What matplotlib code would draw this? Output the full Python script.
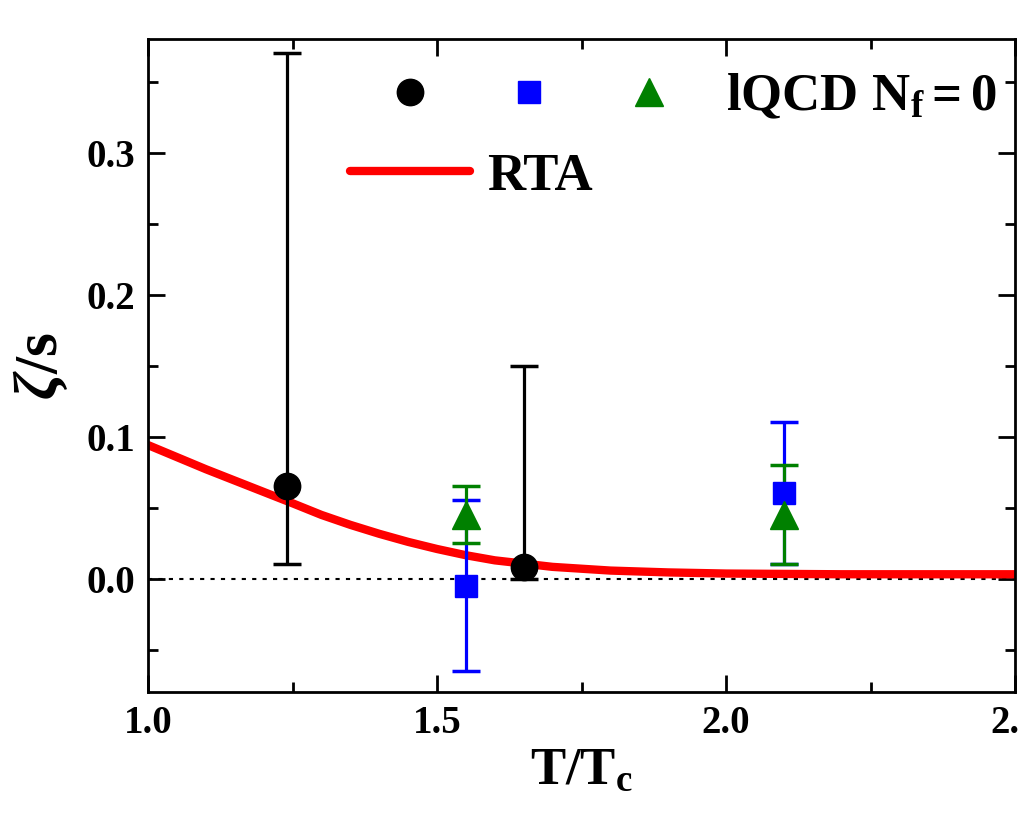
import matplotlib
matplotlib.use('Agg')
import matplotlib.pyplot as plt
from matplotlib.legend_handler import HandlerTuple
from matplotlib.lines import Line2D
from matplotlib.ticker import MultipleLocator

plt.rcParams['font.family'] = ['Liberation Serif', 'DejaVu Serif']
plt.rcParams['font.weight'] = 'bold'
plt.rcParams['mathtext.fontset'] = 'custom'
plt.rcParams['mathtext.rm'] = 'Liberation Serif:bold'
plt.rcParams['mathtext.it'] = 'Liberation Serif:italic:bold'
plt.rcParams['mathtext.bf'] = 'Liberation Serif:bold'

# lattice QCD points (three data sets), asymmetric errors
circ_x = [1.24, 1.65]
circ_y = [0.065, 0.008]
circ_lo = [0.055, 0.008]
circ_hi = [0.305, 0.142]

sq_x = [1.55, 2.10]
sq_y = [-0.005, 0.060]
sq_err = [0.060, 0.050]

tri_x = [1.55, 2.10]
tri_y = [0.045, 0.045]
tri_err = [0.020, 0.035]

# RTA curve
rta_T = [1.0, 1.05, 1.1, 1.15, 1.2, 1.25, 1.3, 1.35, 1.4, 1.45, 1.5, 1.55,
         1.6, 1.7, 1.8, 1.9, 2.0, 2.2, 2.5]
rta_zeta = [0.094, 0.0855, 0.077, 0.069, 0.061, 0.053, 0.0448, 0.0378, 0.0315,
            0.0258, 0.0208, 0.0164, 0.0128, 0.0082, 0.0056, 0.0043, 0.0035,
            0.003, 0.003]

fig = plt.figure(figsize=(10.18, 8.21), dpi=100)
ax = fig.add_axes([0.1454, 0.157, 0.8517, 0.7955])

ax.axhline(0.0, color='black', ls=(0, (2, 3)), lw=1.5, zorder=1)

ax.plot(rta_T, rta_zeta, color='red', lw=6, solid_capstyle='round',
        solid_joinstyle='round', zorder=2)

eb_kw = dict(ls='none', elinewidth=2.3, capsize=10, capthick=2.5, zorder=3)
ax.errorbar(circ_x, circ_y, yerr=[circ_lo, circ_hi], fmt='o', color='black',
            ms=19, **eb_kw)
ax.errorbar(sq_x, sq_y, yerr=sq_err, fmt='s', color='blue', ms=16, **eb_kw)
ax.errorbar(tri_x, tri_y, yerr=tri_err, fmt='^', color='green', ms=20, **eb_kw)

ax.set_xlim(1.0, 2.5)
ax.set_ylim(-0.08, 0.38)
ax.xaxis.set_minor_locator(MultipleLocator(0.25))
ax.yaxis.set_minor_locator(MultipleLocator(0.05))
ax.set_yticks([0.0, 0.1, 0.2, 0.3])
ax.set_xticks([1.0, 1.5, 2.0, 2.5])
ax.set_xticklabels(['1.0', '1.5', '2.0', '2.5'])

ax.tick_params(which='both', direction='in', top=True, right=True, width=2)
ax.tick_params(which='major', length=12, labelsize=28, pad=9)
ax.tick_params(which='minor', length=7)
for lab in ax.get_xticklabels() + ax.get_yticklabels():
    lab.set_fontweight('bold')
for sp in ax.spines.values():
    sp.set_linewidth(2)

ax.set_xlabel(r'$\mathrm{T/T_c}$', fontsize=38, labelpad=4)
ax.set_ylabel(r'$\zeta\mathrm{/s}$', fontsize=44, labelpad=12)

# legend: three marker symbols share one label, RTA line on its own row
mk_c = Line2D([], [], ls='none', marker='o', color='black', ms=19)
mk_s = Line2D([], [], ls='none', marker='s', color='blue', ms=16)
mk_t = Line2D([], [], ls='none', marker='^', color='green', ms=20)
leg1 = ax.legend([(mk_c, mk_s, mk_t)], [r'$\mathrm{lQCD\ N_f = 0}$'],
                 handler_map={tuple: HandlerTuple(ndivide=None, pad=0)},
                 loc='center left', bbox_to_anchor=(0.233, 0.912),
                 frameon=False, fontsize=38, handlelength=6.8,
                 handletextpad=0.32, borderpad=0, borderaxespad=0)
ax.add_artist(leg1)
rta_h = Line2D([], [], color='red', lw=6, solid_capstyle='round')
ax.legend([rta_h], ['RTA'], loc='center left', bbox_to_anchor=(0.233, 0.789),
          frameon=False, handlelength=2.27, handletextpad=0.32,
          borderpad=0, borderaxespad=0, prop={'weight': 'bold', 'size': 38})

fig.savefig('out.png', dpi=100)
